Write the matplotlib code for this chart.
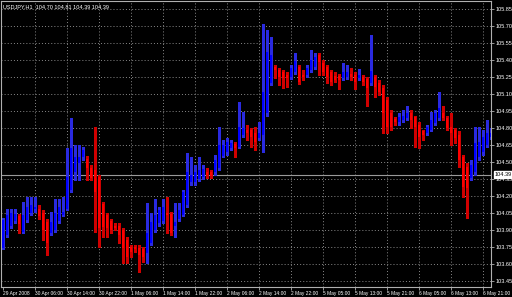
import matplotlib
matplotlib.use("Agg")
import matplotlib.pyplot as plt
import numpy as np

# ---- data (USDJPY H1 candles) ----
opens = [103.74,103.86,103.94,103.98,104.02,103.88,103.99,104.05,104.09,104.09,
         104.05,103.97,103.87,103.90,103.98,104.03,104.09,104.25,104.41,104.49,
         104.54,104.53,104.45,104.43,104.37,104.13,104.03,103.98,103.94,103.94,
         103.90,103.81,103.75,103.75,103.74,103.73,103.70,103.79,103.90,103.96,
         103.98,104.05,104.04,103.94,104.00,104.03,104.12,104.32,104.32,104.35,
         104.37,104.41,104.41,104.41,104.45,104.55,104.59,104.62,104.66,104.63,
         104.74,104.78,104.78,104.76,104.71,104.74,104.93,105.20,105.34,105.31,
         105.29,105.27,105.25,105.29,105.34,105.27,105.27,105.31,105.34,105.44,
         105.37,105.34,105.29,105.26,105.26,105.24,105.25,105.28,105.27,105.24,
         105.25,105.23,105.20,105.25,105.20,105.15,105.05,104.93,104.88,104.85,
         104.87,104.89,104.93,104.90,104.83,104.77,104.76,104.78,104.84,104.89,
         104.93,104.89,104.81,104.78,104.74,104.54,104.46,104.36,104.41,104.54,
         104.59,104.65,104.72]
highs = [104.01,104.09,104.09,104.09,104.04,104.15,104.19,104.19,104.19,104.12,
         104.08,104.00,104.06,104.17,104.17,104.19,104.62,104.89,104.65,104.65,
         104.63,104.55,104.47,104.81,104.39,104.15,104.05,104.00,103.96,103.96,
         103.92,103.84,103.77,103.77,103.77,103.75,104.14,104.05,104.17,104.10,
         104.17,104.19,104.06,104.14,104.14,104.25,104.58,104.54,104.47,104.54,
         104.47,104.45,104.43,104.56,104.81,104.69,104.71,104.69,104.68,105.03,
         104.94,104.83,104.80,104.81,104.85,105.72,105.66,105.60,105.36,105.33,
         105.31,105.29,105.36,105.46,105.36,105.31,105.36,105.49,105.46,105.46,
         105.40,105.36,105.31,105.29,105.28,105.37,105.36,105.33,105.29,105.32,
         105.27,105.25,105.62,105.27,105.22,105.18,105.07,104.96,104.90,104.93,
         104.96,104.99,104.96,104.91,104.85,104.78,104.83,104.94,104.96,105.12,
         104.99,104.91,104.93,104.80,104.77,104.56,104.49,104.52,104.81,104.81,
         104.78,104.87,104.80]
lows = [103.73,103.84,103.92,103.96,103.87,103.87,103.97,104.03,104.06,104.00,
        103.81,103.68,103.86,103.88,103.96,104.02,104.08,104.24,104.34,104.34,
        104.52,104.34,104.34,103.88,103.75,103.84,103.84,103.87,103.90,103.79,
        103.61,103.61,103.66,103.71,103.53,103.62,103.61,103.77,103.88,103.94,
        103.96,103.87,103.86,103.84,103.98,104.02,104.10,104.30,104.30,104.33,
        104.35,104.36,104.36,104.39,104.43,104.54,104.56,104.61,104.54,104.62,
        104.72,104.69,104.63,104.61,104.69,104.59,104.91,105.18,105.24,105.18,
        105.15,105.16,105.23,105.28,105.19,105.22,105.25,105.29,105.32,105.27,
        105.27,105.20,105.18,105.21,105.14,105.22,105.23,105.22,105.14,105.22,
        105.18,104.99,105.18,105.07,105.09,104.76,104.76,104.78,104.83,104.83,
        104.85,104.87,104.80,104.63,104.62,104.69,104.74,104.77,104.83,104.87,
        104.87,104.78,104.65,104.67,104.46,104.19,104.01,104.34,104.39,104.52,
        104.56,104.63,104.70]
closes = [103.99,104.03,104.05,104.04,103.95,104.03,104.10,104.12,104.10,104.02,
          103.90,103.79,103.97,104.05,104.10,104.06,104.37,104.62,104.54,104.54,
          104.61,104.45,104.36,104.24,103.92,103.93,103.92,103.90,103.92,103.86,
          103.74,103.66,103.71,103.73,103.68,103.66,103.87,103.97,104.03,104.08,
          104.10,104.03,103.87,103.97,104.08,104.24,104.41,104.39,104.41,104.43,
          104.44,104.39,104.38,104.52,104.65,104.65,104.68,104.67,104.62,104.81,
          104.80,104.76,104.72,104.68,104.76,105.12,105.47,105.44,105.31,105.25,
          105.24,105.24,105.33,105.39,105.21,105.25,105.33,105.40,105.43,105.38,
          105.29,105.25,105.21,105.22,105.22,105.29,105.29,105.25,105.21,105.27,
          105.21,105.15,105.30,105.16,105.12,104.93,104.81,104.81,104.85,104.90,
          104.91,104.93,104.87,104.81,104.72,104.74,104.81,104.87,104.93,104.98,
          104.89,104.80,104.76,104.71,104.52,104.28,104.27,104.47,104.67,104.68,
          104.72,104.76,104.76]

price_ticks = [103.45,103.60,103.75,103.90,104.05,104.20,104.35,104.50,104.65,
               104.80,104.95,105.10,105.25,105.40,105.55,105.70,105.85]
time_labels = ["29 Apr 2008","30 Apr 06:00","30 Apr 14:00","30 Apr 22:00",
               "1 May 06:00","1 May 14:00","1 May 22:00","2 May 06:00",
               "2 May 14:00","2 May 22:00","5 May 05:00","5 May 13:00",
               "5 May 21:00","6 May 05:00","6 May 13:00","6 May 21:00"]
time_label_bars = [0,8,16,24,32,40,48,56,64,72,80,88,96,104,112,120]
bid_price = 104.39
title_text = "USDJPY,H1  104.70 104.81 104.39 104.39"

# ---- drawing ----
FONT = "Liberation Sans"
fig = plt.figure(figsize=(5.12, 2.97), dpi=100, facecolor="black")
ax = fig.add_axes([1/512, 10/297, 490/512, 286/297], facecolor="black")

n = len(opens)
x = np.arange(n)
o = np.array(opens); h = np.array(highs); l = np.array(lows); c = np.array(closes)
up = c >= o

body_col = np.where(up, "#0000ff", "#ff0000")
wick_col = np.where(up, "#2a2ae0", "#d00000")

# grid
grid_col = "#8a8a8a"
for p in price_ticks:
    ax.axhline(p, color=grid_col, lw=0.7, ls=(0, (1, 2.2)), zorder=0)
for b in time_label_bars[1:]:
    ax.axvline(b, color=grid_col, lw=0.7, ls=(0, (1, 2.2)), zorder=0)

# wicks
ax.vlines(x, l, h, colors=list(wick_col), lw=0.75, zorder=2, antialiased=False)
# bodies
bottoms = np.minimum(o, c)
heights = np.maximum(np.abs(c - o), 0.012)
ax.bar(x, heights, bottom=bottoms, width=0.45, color=list(body_col),
       linewidth=0, zorder=3, antialiased=False)

# bid line
ax.axhline(bid_price, color="#9a9a9a", lw=0.8, zorder=1)

ax.set_xlim(-0.5, 122)
ax.set_ylim(103.398, 105.92)

for s in ax.spines.values():
    s.set_color("#b0b0b0")
    s.set_linewidth(0.8)

ax.yaxis.tick_right()
ax.set_yticks(price_ticks)
ax.set_yticklabels([f"{p:.2f}" for p in price_ticks])
ax.tick_params(axis="y", colors="#b0b0b0", labelcolor="white", length=2,
               width=0.6, pad=1.5, labelsize=4.0)
ax.set_xticks(time_label_bars)
ax.set_xticklabels(time_labels, ha="left")
ax.tick_params(axis="x", colors="#b0b0b0", labelcolor="white", length=2,
               width=0.6, pad=1.2, labelsize=3.5)
for t in ax.get_xticklabels() + ax.get_yticklabels():
    t.set_fontfamily(FONT)

# bid label box
ax.annotate(f"{bid_price:.2f}", xy=(1.0, bid_price), xycoords=("axes fraction", "data"),
            xytext=(2.5, 0), textcoords="offset points", ha="left", va="center",
            fontsize=4.0, fontfamily=FONT, color="black",
            bbox=dict(boxstyle="square,pad=0.15", fc="white", ec="white"),
            annotation_clip=False, zorder=10)

fig.text(3/512, 1 - 7/297, title_text, color="white", fontsize=4.0,
         fontfamily=FONT, va="center", ha="left")

fig.savefig("out.png", dpi=100, facecolor="black")
